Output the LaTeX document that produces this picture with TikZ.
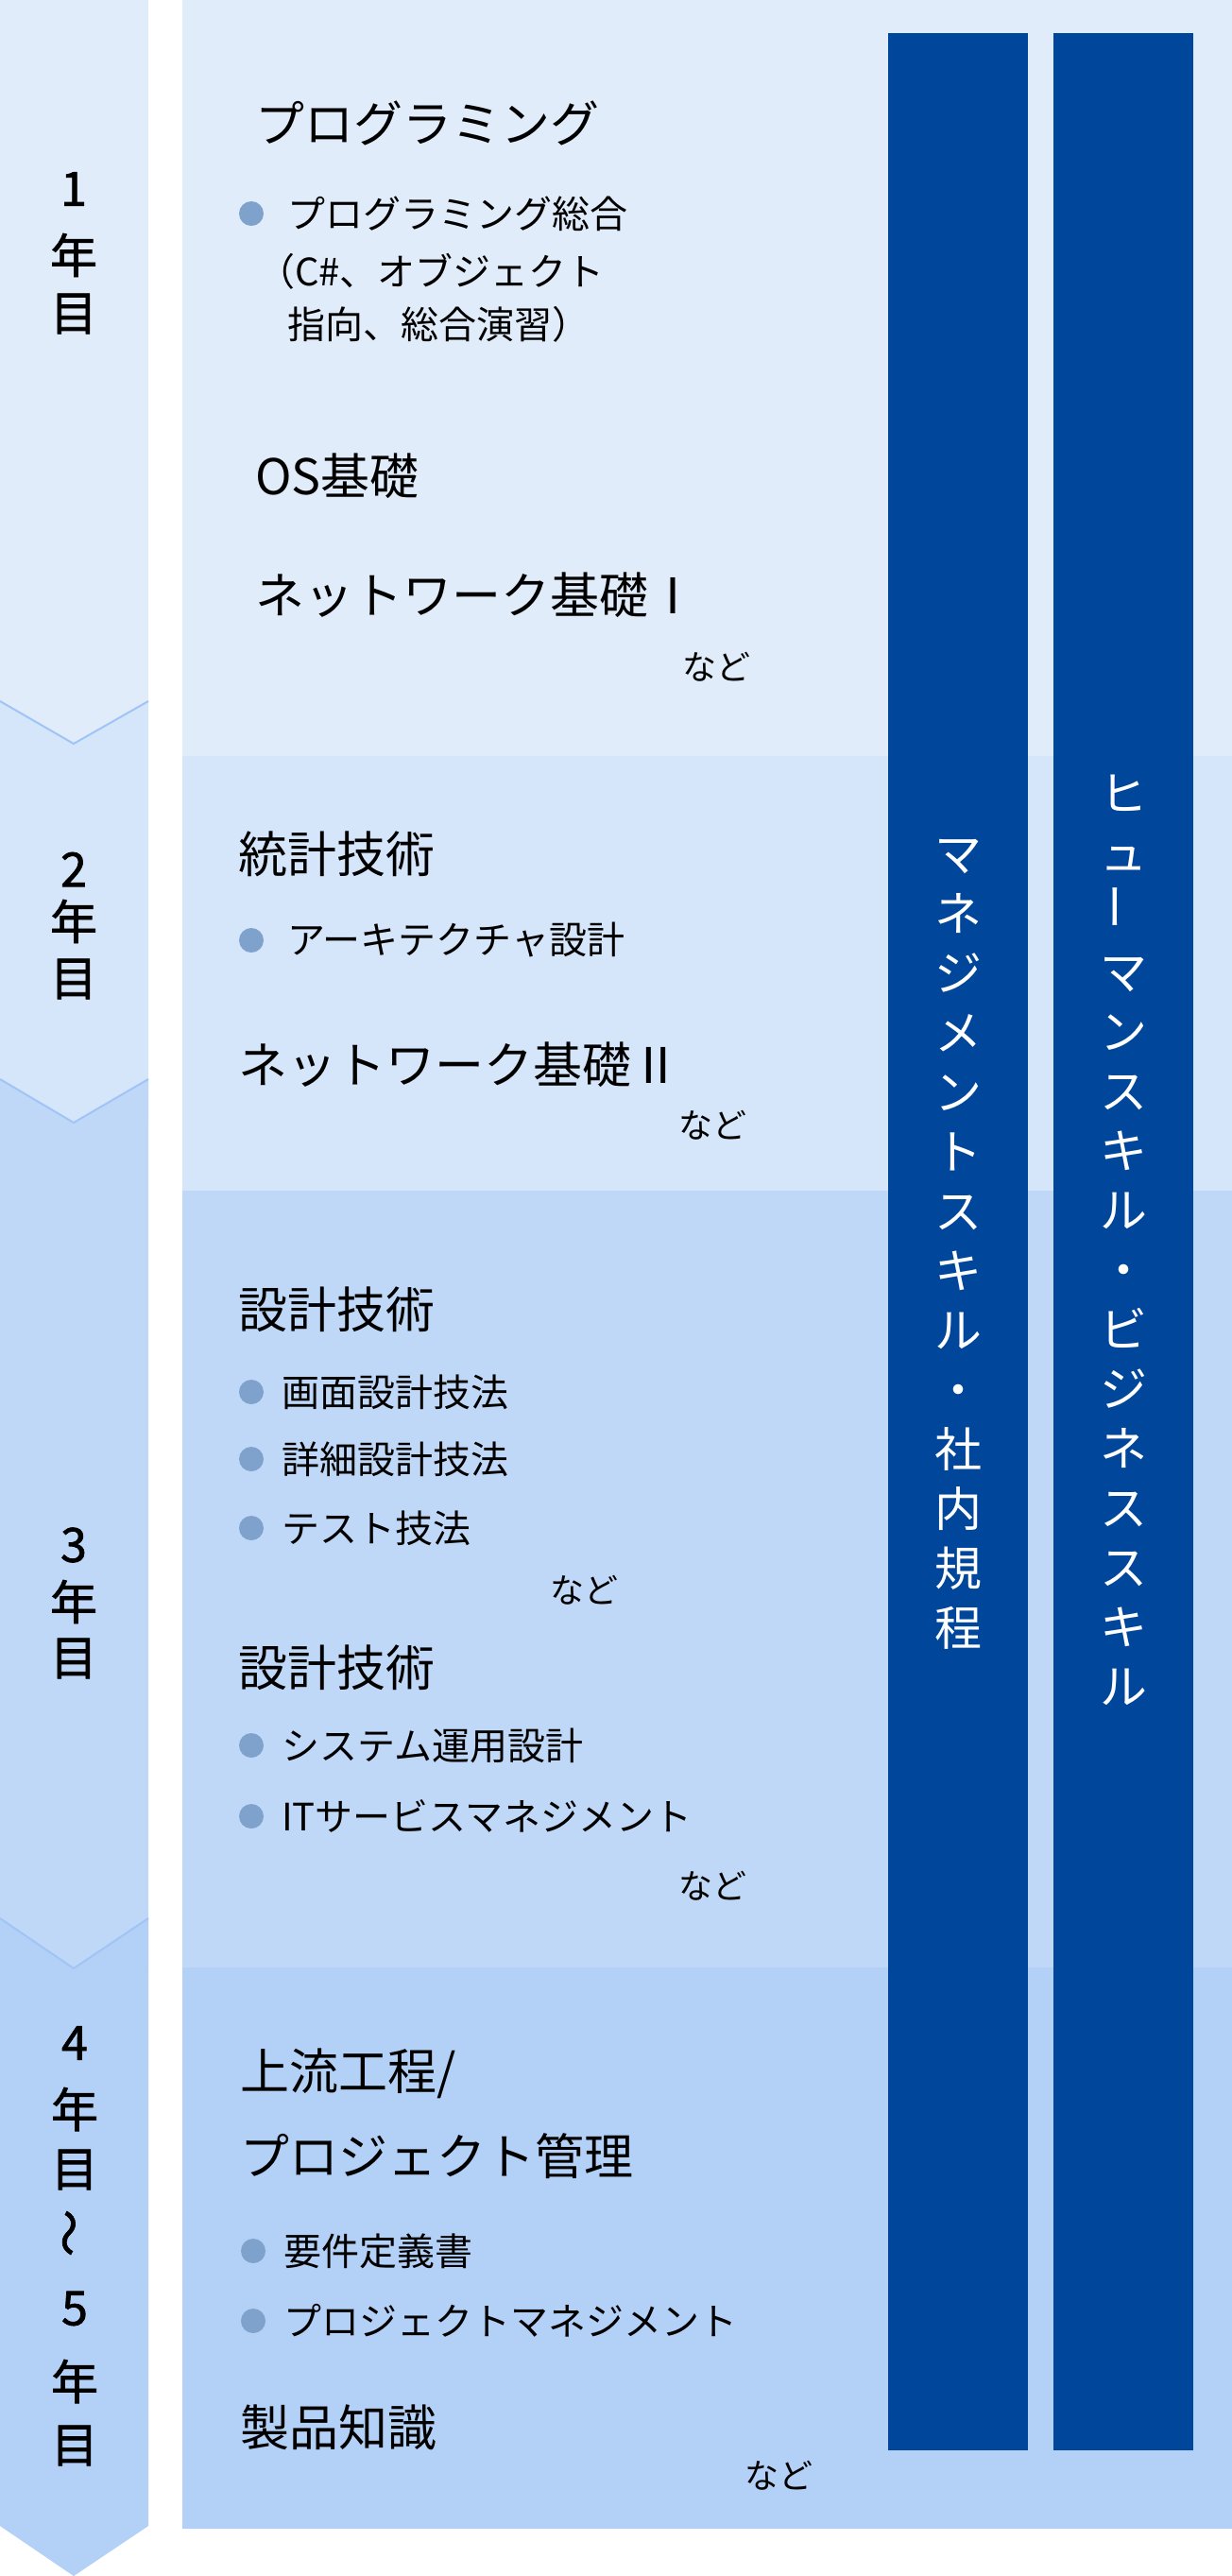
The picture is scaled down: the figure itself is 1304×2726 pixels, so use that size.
\documentclass[tikz,border=0pt]{standalone}
\usepackage{fontspec}
\setmainfont{Noto Sans CJK JP}
\newfontfamily\cjkb{Noto Sans CJK JP}[FakeBold=1.5]
\definecolor{bA}{HTML}{E1ECFB}
\definecolor{bB}{HTML}{D5E5FA}
\definecolor{bC}{HTML}{C0D8F8}
\definecolor{bD}{HTML}{B3D0F7}
\definecolor{chev}{HTML}{A0C4F5}
\definecolor{bar}{HTML}{00469A}
\definecolor{dot}{HTML}{7FA2CC}
\tikzset{
 head/.style={anchor=west,font=\fontsize{52}{60}\selectfont,inner sep=0},
 item/.style={anchor=west,font=\fontsize{40}{50}\selectfont,inner sep=0},
 nado/.style={anchor=west,font=\fontsize{36}{40}\selectfont,inner sep=0},
 yr/.style={font=\cjkb\fontsize{50}{56}\selectfont,inner sep=0},
 vt/.style={font=\fontsize{50}{63}\selectfont,text=white,align=center,inner sep=0},
 bul/.style={circle,fill=dot,minimum size=26pt,inner sep=0}
}
\newcommand{\vbar}{\rotatebox{90}{ー}}
\begin{document}
\begin{tikzpicture}[x=1pt,y=-1pt]
\useasboundingbox (0,0) rectangle (1304,2726);
% panels
\fill[bA] (193,0) rectangle (1304,800);
\fill[bB] (193,800) rectangle (1304,1260);
\fill[bC] (193,1260) rectangle (1304,2082);
\fill[bD] (193,2082) rectangle (1304,2676);
% left arrow
\fill[bA] (0,0) rectangle (157,787);
\fill[bB] (0,742) -- (78,787) -- (157,742) -- (157,1188) -- (78,1188) -- (0,1188) -- cycle;
\fill[bC] (0,1142) -- (78,1188) -- (157,1142) -- (157,2083) -- (0,2083) -- cycle;
\fill[bD] (0,2030) -- (78,2083) -- (157,2030) -- (157,2673) -- (78,2726) -- (0,2673) -- cycle;
\draw[chev,line width=2pt] (0,742) -- (78,787) -- (157,742);
\draw[chev,line width=2pt] (0,1142) -- (78,1188) -- (157,1142);
\draw[chev,line width=2pt] (0,2030) -- (78,2083) -- (157,2030);
% bars
\fill[bar] (940,35) rectangle (1088,2593);
\fill[bar] (1115,35) rectangle (1263,2593);
\node[vt] (v1) at (1014,1317) {マ\\ネ\\ジ\\メ\\ン\\ト\\ス\\キ\\ル\\・\\社\\内\\規\\程};
\node[vt] (v2) at (1189,1312) {ヒ\\ュ\\\vbar\\マ\\ン\\ス\\キ\\ル\\・\\ビ\\ジ\\ネ\\ス\\ス\\キ\\ル};
% year labels
\node[yr] (y1a) at (78,200) {1};
\node[yr] (y1b) at (78,270) {年};
\node[yr] (y1c) at (78,332) {目};
\node[yr] (y2a) at (78,920) {2};
\node[yr] (y2b) at (78,975) {年};
\node[yr] (y2c) at (78,1036) {目};
\node[yr] (y3a) at (78,1635) {3};
\node[yr] (y3b) at (78,1695) {年};
\node[yr] (y3c) at (78,1755) {目};
\node[yr] (y4a) at (79,2162) {4};
\node[yr] (y4b) at (79,2232) {年};
\node[yr] (y4c) at (79,2296) {目};
\node[yr] (y4d) at (79,2363) {\rotatebox{90}{～}};
\node[yr] (y4e) at (79,2443) {5};
\node[yr] (y4f) at (79,2520) {年};
\node[yr] (y4g) at (79,2588) {目};
% band 1
\node[head] (h1) at (270,130) {プログラミング};
\node[bul] (d1) at (266,226) {};
\node[item] (i1) at (304,226) {プログラミング総合};
\node[item] (i1b) at (272,287) {（C\#、オブジェクト};
\node[item] (i1c) at (304,343) {指向、総合演習）};
\node[head] (h2) at (270,504) {OS基礎};
\node[head] (h3) at (270,630) {ネットワーク基礎Ⅰ};
\node[nado] (n1) at (722,706) {など};
% band 2
\node[head] (h4) at (252,904) {統計技術};
\node[bul] (d2) at (266,995) {};
\node[item] (i2) at (304,995) {アーキテクチャ設計};
\node[head] (h5) at (252,1127) {ネットワーク基礎Ⅱ};
\node[nado] (n2) at (718,1191) {など};
% band 3
\node[head] (h6) at (252,1386) {設計技術};
\node[bul] (d3) at (266,1473) {};
\node[item] (i3) at (298,1473) {画面設計技法};
\node[bul] (d4) at (266,1544) {};
\node[item] (i4) at (298,1544) {詳細設計技法};
\node[bul] (d5) at (266,1617) {};
\node[item] (i5) at (298,1617) {テスト技法};
\node[nado] (n3) at (582,1683) {など};
\node[head] (h7) at (252,1765) {設計技術};
\node[bul] (d6) at (266,1847) {};
\node[item] (i6) at (298,1847) {システム運用設計};
\node[bul] (d7) at (266,1922) {};
\node[item] (i7) at (298,1922) {ITサービスマネジメント};
\node[nado] (n4) at (718,1996) {など};
% band 4
\node[head] (h8) at (254,2194) {上流工程/};
\node[head] (h9) at (254,2282) {プロジェクト管理};
\node[bul] (d8) at (268,2382) {};
\node[item] (i8) at (300,2382) {要件定義書};
\node[bul] (d9) at (268,2456) {};
\node[item] (i9) at (300,2456) {プロジェクトマネジメント};
\node[head] (h10) at (254,2569) {製品知識};
\node[nado] (n5) at (788,2620) {など};
\end{tikzpicture}
\end{document}
